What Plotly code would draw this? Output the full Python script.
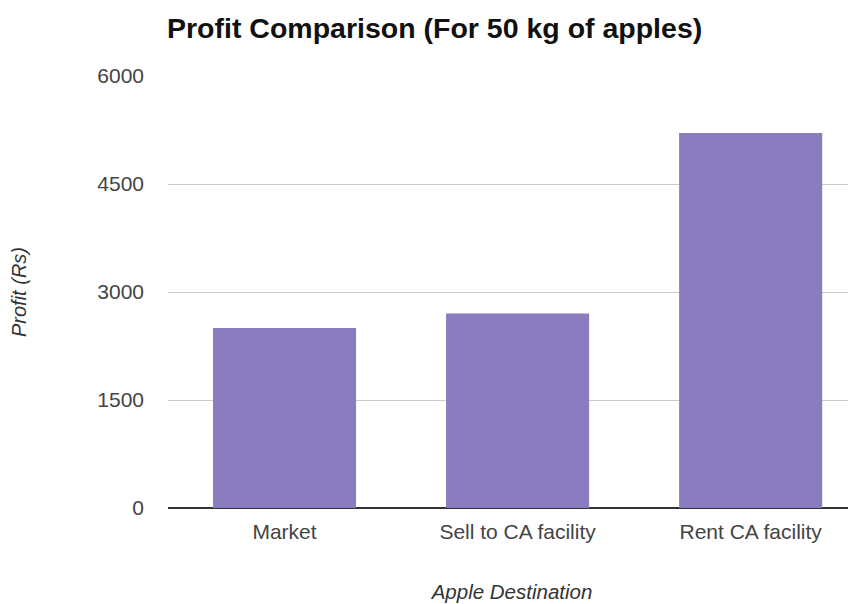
import plotly.graph_objects as go

categories = ["Market", "Sell to CA facility", "Rent CA facility"]
profit = [2500, 2700, 5210]
y_ticks = [0, 1500, 3000, 4500, 6000]

# page body has an 8px margin; compensate so the plot lands where the reference has it
OFF = 8
W, H = 856 - OFF, 604 - OFF
L, R, T, B = 168 - OFF, 0, 76 - OFF, 604 - 508

fig = go.Figure(go.Bar(
    x=categories, y=profit,
    marker=dict(color="#8b7bbf", line=dict(width=0)),
    hoverinfo="x+y",
))

fig.update_layout(
    width=W, height=H,
    margin=dict(l=L, r=R, t=T, b=B, pad=0),
    paper_bgcolor="white", plot_bgcolor="white",
    bargap=0.386,
    showlegend=False,
    font=dict(family="Liberation Sans, Arial, sans-serif", color="#444444"),
    title=dict(
        text="<b>Profit Comparison (For 50 kg of apples)</b>",
        font=dict(size=28.5, color="#111111", family="Liberation Sans, Arial, sans-serif"),
        x=(167 - OFF) / W, xref="container", xanchor="left",
        y=1 - (28 - OFF) / H, yref="container", yanchor="middle",
    ),
    xaxis=dict(
        range=[-0.5, 2.452],
        showgrid=False,
        showline=False,
        ticks="",
        tickfont=dict(size=21, color="#444444"),
        ticklabelstandoff=9,
        title=dict(text="<i>Apple Destination</i>", font=dict(size=20.5, color="#333333"), standoff=42),
        fixedrange=True,
    ),
    yaxis=dict(
        range=[0, 6000],
        tickvals=y_ticks,
        ticktext=[str(v) for v in y_ticks],
        showgrid=True, gridcolor="#cccccc", gridwidth=1,
        zeroline=True, zerolinecolor="#333333", zerolinewidth=2,
        showline=False, ticks="",
        tickfont=dict(size=21, color="#444444"),
        ticklabelstandoff=23,
        title=dict(text="<i>Profit (Rs)</i>", font=dict(size=20, color="#333333"), standoff=66),
        fixedrange=True,
    ),
)

fig.write_html("out.html")
